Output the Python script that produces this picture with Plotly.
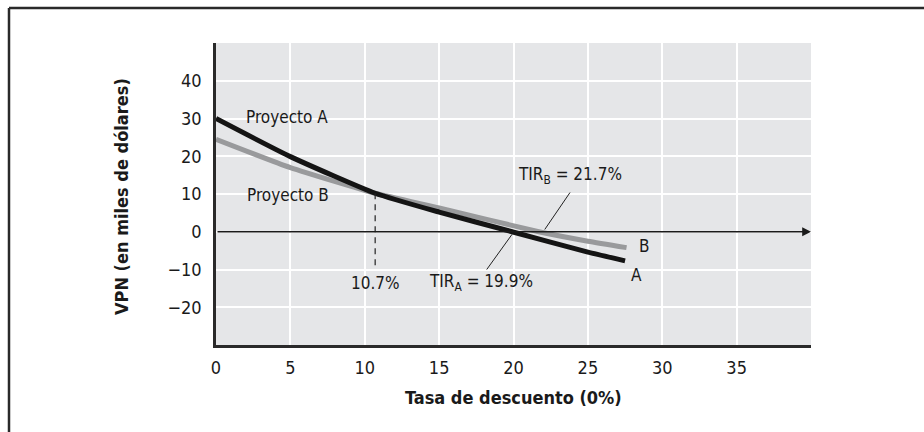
import plotly.graph_objects as go

# Perfiles de VPN de los dos proyectos (tasa de descuento en %, VPN en miles de dólares)
tasa_a = [0, 5, 10.7, 15, 19.9, 25, 27.5]
vpn_a = [30, 19.9, 10.2, 5.2, 0, -5.4, -7.7]
tasa_b = [0, 5, 10.7, 15, 21.7, 25, 27.6]
vpn_b = [24.5, 17.0, 10.2, 6.3, 0, -2.5, -4.2]

cruce_tasa = 10.7
cruce_vpn = 10.2
tir_a = 19.9
tir_b = 21.7

x_ticks = [0, 5, 10, 15, 20, 25, 30, 35]
y_ticks = [-20, -10, 0, 10, 20, 30, 40]

FONT = "DejaVu Sans Condensed, Liberation Sans Narrow, Arial Narrow, sans-serif"
W, H = 924, 432
ML, MR, MT, MB = 216, 113, 43, 87
PW, PH = W - ML - MR, H - MT - MB


def px(x):
    return (x - ML) / PW


def py(y):
    return (H - MB - y) / PH


fig = go.Figure()
fig.add_trace(go.Scatter(x=tasa_b, y=vpn_b, mode="lines", line=dict(color="#999a9c", width=5, shape="spline", smoothing=0.5), hoverinfo="skip"))
fig.add_trace(go.Scatter(x=tasa_a, y=vpn_a, mode="lines", line=dict(color="#141414", width=5, shape="spline", smoothing=0.5), hoverinfo="skip"))

shapes = [
    # línea punteada en la tasa de cruce
    dict(type="line", xref="x", yref="y", x0=cruce_tasa, x1=cruce_tasa, y0=cruce_vpn, y1=-9.3,
         line=dict(color="#222", width=1.2, dash="6px,5px")),
    # líneas guía de las TIR
    dict(type="line", xref="x", yref="y", x0=23.8, y0=10.4, x1=tir_b + 0.4, y1=0.6, line=dict(color="#222", width=1)),
    dict(type="line", xref="x", yref="y", x0=tir_a, y0=-0.7, x1=18.2, y1=-10.0, line=dict(color="#222", width=1)),
    # marco de la figura
    dict(type="line", xref="paper", yref="paper", x0=px(9), x1=px(W + 5), y0=py(8), y1=py(8), line=dict(color="#2a2a2a", width=2.5)),
    dict(type="line", xref="paper", yref="paper", x0=px(9), x1=px(9), y0=py(8), y1=py(H + 5), line=dict(color="#2a2a2a", width=2.5)),
]

tf = dict(family=FONT, size=17, color="#1a1a1a")
annotations = [
    # eje horizontal con flecha
    dict(x=40, y=0, ax=0, ay=0, xref="x", yref="y", axref="x", ayref="y", text="", showarrow=True,
         arrowhead=2, arrowsize=1.1, arrowwidth=1.6, arrowcolor="#1a1a1a"),
    dict(x=1.9, y=30.3, text="Proyecto A", xanchor="left", showarrow=False, font=tf),
    dict(x=1.95, y=9.8, text="Proyecto B", xanchor="left", showarrow=False, font=tf),
    dict(x=cruce_tasa, y=-13.6, text=f"{cruce_tasa}%", showarrow=False, font=tf),
    dict(x=17.8, y=-13.4, text=f"TIR<sub>A</sub> = {tir_a}%", showarrow=False, font=tf),
    dict(x=23.8, y=14.8, text=f"TIR<sub>B</sub> = {tir_b}%", showarrow=False, font=tf),
    dict(x=28.8, y=-3.9, text="B", showarrow=False, font=tf),
    dict(x=28.3, y=-11.4, text="A", showarrow=False, font=tf),
    # títulos de ejes
    dict(x=0.5, y=py(398), xref="paper", yref="paper", xanchor="center", yanchor="middle",
         text="<b>Tasa de descuento (0%)</b>", showarrow=False,
         font=dict(family=FONT, size=18, color="#1a1a1a")),
    dict(x=px(122), y=py(197), xref="paper", yref="paper", xanchor="center", yanchor="middle",
         text="<b>VPN (en miles de dólares)</b>", textangle=-90,
         showarrow=False, font=dict(family=FONT, size=18, color="#1a1a1a")),
]

fig.update_layout(
    width=W, height=H,
    margin=dict(l=ML, r=MR, t=MT, b=MB),
    paper_bgcolor="white", plot_bgcolor="#e5e6e8",
    showlegend=False,
    shapes=shapes, annotations=annotations,
    font=dict(family=FONT, size=17, color="#1a1a1a"),
)
fig.update_xaxes(range=[0, 40], tickvals=x_ticks, showgrid=True, gridcolor="white", gridwidth=1.5,
                 zeroline=False, showline=True, linecolor="#2a2a2a", linewidth=2.5, ticks="",
                 tickfont=dict(family=FONT, size=18, color="#1a1a1a"), ticklabelstandoff=5, fixedrange=True)
fig.update_yaxes(range=[-30, 50], tickvals=y_ticks, showgrid=True, gridcolor="white", gridwidth=1.5,
                 zeroline=False, showline=True, linecolor="#2a2a2a", linewidth=2.5, ticks="",
                 tickfont=dict(family=FONT, size=18, color="#1a1a1a"), ticklabelstandoff=8, fixedrange=True)

fig.write_html("out.html", config={"displayModeBar": False})
